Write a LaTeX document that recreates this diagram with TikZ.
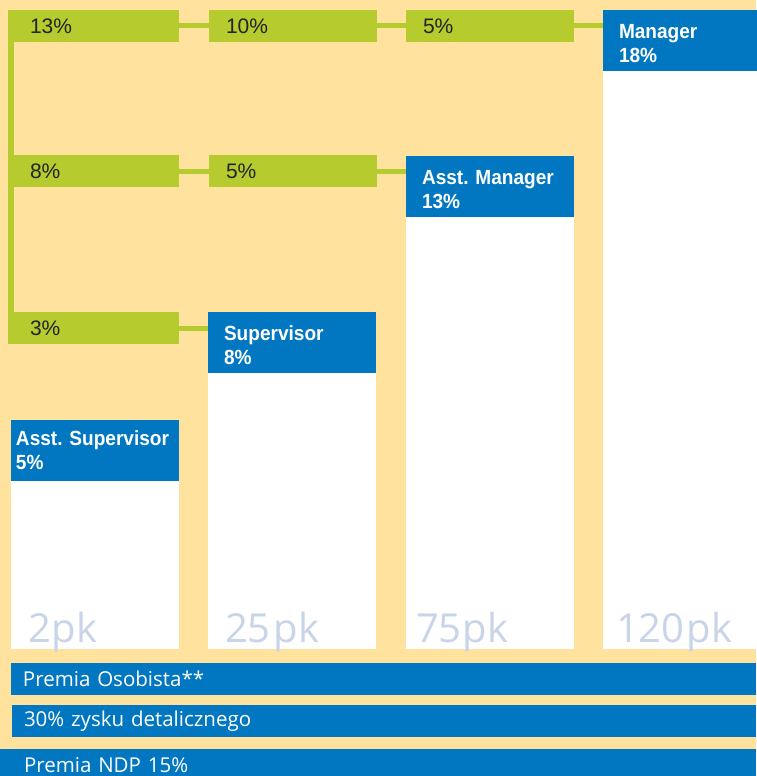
\documentclass[tikz,border=0pt]{standalone}
\usepackage{fontspec}
\setmainfont{Liberation Sans}
\newfontfamily\hdrfont{Liberation Sans}[FakeStretch=0.93]
\newfontfamily\stripfont{Open Sans}
\usetikzlibrary{positioning}
\definecolor{bgorange}{RGB}{255,226,157}
\definecolor{hdblue}{RGB}{0,119,192}
\definecolor{pctgreen}{RGB}{181,203,46}
\definecolor{pkgrey}{RGB}{200,212,232}
\definecolor{txtdark}{RGB}{35,35,35}
\frenchspacing
\hyphenpenalty=10000
\exhyphenpenalty=10000
\newcommand{\hdstrut}{\rule{0pt}{21pt}}

\begin{document}
\begin{tikzpicture}[x=1pt, y=-1pt, outer sep=0pt,
    pct/.style={fill=pctgreen, text=txtdark, anchor=north west, font=\fontsize{21}{24}\selectfont,
                minimum height=32pt, inner ysep=0pt, inner xsep=17pt, text width=134pt, align=left},
    hdr/.style={fill=hdblue, text=white, anchor=north west, font=\hdrfont\bfseries\fontsize{20.5}{24}\selectfont,
                minimum height=61pt, inner ysep=0pt, inner xsep=16pt, text width=136pt, align=left},
    colbar/.style={fill=white, minimum width=168pt, inner sep=0pt},
    pk/.style={text=pkgrey, anchor=base west, inner sep=0pt, font=\stripfont\fontsize{40}{42}\selectfont},
    strip/.style={fill=hdblue, text=white, anchor=north west, font=\stripfont\fontsize{20.5}{24}\selectfont,
                minimum height=32pt, inner ysep=0pt, inner xsep=12pt, align=left},
    link/.style={draw=pctgreen, line width=5pt}]
    \fill[bgorange] (0,0) rectangle (756,776);
    \useasboundingbox (0,0) rectangle (756,776);

    % column heads
    \node[hdr, inner xsep=5pt, text width=158pt] (hAS) at (11,420) {Asst. Supervisor\\5\%};
    \node[hdr] (hS)  at (208,312) {\hdstrut Supervisor\\8\%};
    \node[hdr] (hAM) at (406,156) {\hdstrut Asst. Manager\\13\%};
    \node[hdr] (hM)  at (603,10)  {\hdstrut Manager\\18\%};

    % white columns
    \node[colbar, minimum height=168pt, below=0pt of hAS] (bAS) {};
    \node[colbar, minimum height=276pt, below=0pt of hS]  (bS)  {};
    \node[colbar, minimum height=432pt, below=0pt of hAM] (bAM) {};
    \node[colbar, minimum height=578pt, below=0pt of hM]  (bM)  {};

    \node[pk] (kAS) at ([shift={(17,-7)}]bAS.south west) {2\kern1pt pk};
    \node[pk] (kS)  at ([shift={(17,-7)}]bS.south west)  {25\kern3pt pk};
    \node[pk] (kAM) at ([shift={(10,-7)}]bAM.south west) {75\kern1pt pk};
    \node[pk] (kM)  at ([shift={(13,-7)}]bM.south west)  {120\kern2pt pk};

    % green steps
    \node[pct, inner xsep=22pt, text width=127pt] (p13) at (8,10)  {13\%};
    \node[pct] (p10) at (209,10) {10\%};
    \node[pct] (p5a) at (406,10) {5\%};
    \node[pct, inner xsep=22pt, text width=127pt] (p8) at (8,155) {8\%};
    \node[pct] (p5b) at (209,155) {5\%};
    \node[pct, inner xsep=22pt, text width=127pt] (p3) at (8,312) {3\%};

    \draw[link] (p13) -- (p10);
    \draw[link] (p10) -- (p5a);
    \draw[link] (p5a) -- (p5a -| hM.west);
    \draw[link] (p8) -- (p5b);
    \draw[link] (p5b) -- (p5b -| hAM.west);
    \draw[link] (p3) -- (p3 -| hS.west);
    \draw[link, line width=6pt] ([xshift=3pt]p13.north west) -- ([xshift=3pt]p3.south west);

    % bonus strips
    \node[strip, text width=721pt] (sPO) at (11,663) {Premia Osobista**};
    \node[strip, text width=720pt] (sZD) at (12,705) {30\% zysku detalicznego};
    \node[strip, inner xsep=24pt, text width=708pt] (sND) at (0,749) {Premia NDP 15\%};
\end{tikzpicture}
\end{document}
